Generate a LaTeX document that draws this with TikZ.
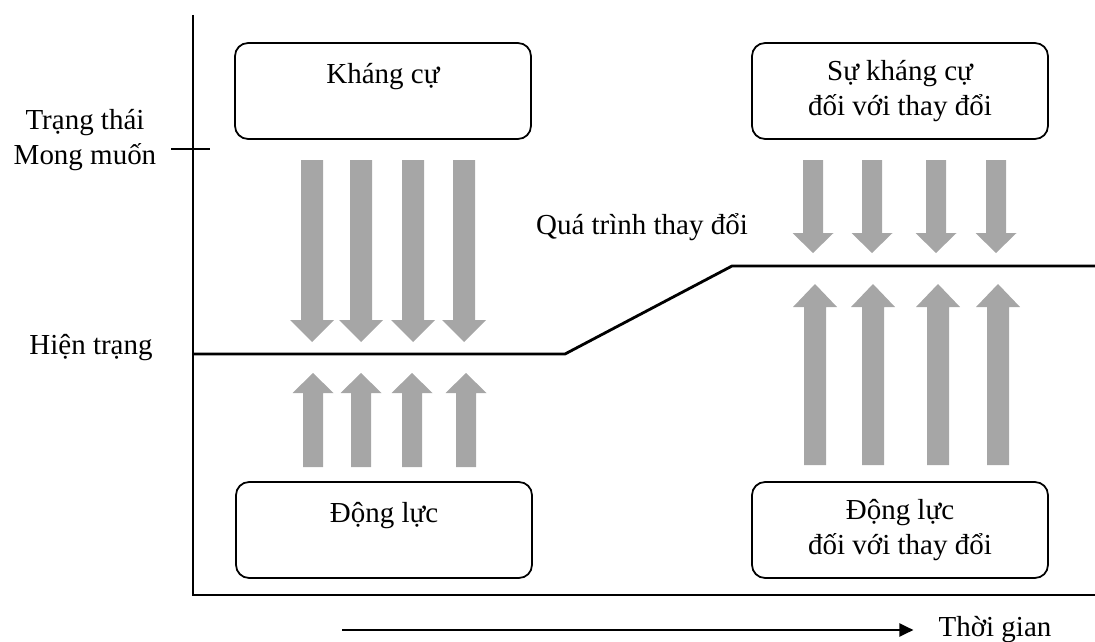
\documentclass[tikz,border=0pt]{standalone}
\usepackage{fontspec}
\setmainfont{Liberation Serif}
\usetikzlibrary{arrows.meta}
\definecolor{arrowgray}{RGB}{166,166,166}

\begin{document}
\begin{tikzpicture}[x=0.02cm, y=-0.02cm, font=\fontsize{16.5}{19.5}\selectfont,
  box/.style={draw, line width=1pt, rounded corners=0.26cm, minimum width=5.92cm,
    minimum height=1.92cm, align=center, inner sep=0pt}]
  \useasboundingbox (0,0) rectangle (1095,642);

  % Axes
  \draw[line width=1.6pt] (193,15) -- (193,595) -- (1095,595);
  \draw[line width=1.6pt] (171,149) -- (210,149);

  % Axis labels
  \node[align=center] (goal) at (85,140) {Trạng thái\\Mong muốn};
  \node (now) at (91,348) {Hiện trạng};

  % Boxes
  \node[box] (resist) at (383,91) {Kháng cự\\\mbox{}};
  \node[box] (drive) at (384,530) {Động lực\\\mbox{}};
  \node[box] (resistchg) at (900,91) {Sự kháng cự\\đối với thay đổi};
  \node[box] (drivechg) at (900,530) {Động lực\\đối với thay đổi};

  % State line
  \draw[line width=1.6pt] (193,354) -- (565,354) -- (732,266) -- (1095,266);
  \node (process) at (642,227) {Quá trình thay đổi};

  % Resistance arrows (left)
  \foreach \x in {312,361,413,464} {
    \fill[arrowgray] ({\x-11},160) -- ({\x+11},160) -- ({\x+11},320) -- ({\x+22},320)
      -- (\x,342) -- ({\x-22},320) -- ({\x-11},320) -- cycle;
  }
  % Driving arrows (left)
  \foreach \x in {313,361,412,466} {
    \fill[arrowgray] ({\x-10},467) -- ({\x+10},467) -- ({\x+10},393) -- ({\x+20.5},393)
      -- (\x,373) -- ({\x-20.5},393) -- ({\x-10},393) -- cycle;
  }
  % Resistance arrows (right)
  \foreach \x in {813,872,936,996} {
    \fill[arrowgray] ({\x-10},160) -- ({\x+10},160) -- ({\x+10},233) -- ({\x+20.5},233)
      -- (\x,253) -- ({\x-20.5},233) -- ({\x-10},233) -- cycle;
  }
  % Driving arrows (right)
  \foreach \x in {815,873,938,998} {
    \fill[arrowgray] ({\x-11},465) -- ({\x+11},465) -- ({\x+11},307) -- ({\x+22},307)
      -- (\x,284) -- ({\x-22},307) -- ({\x-11},307) -- cycle;
  }

  % Time
  \node (time) at (995,630) {Thời gian};
  \coordinate (tstart) at (342,630);
  \draw[line width=1.2pt, -{Triangle[length=0.28cm, width=0.26cm]}]
    (tstart) -- ([xshift=-0.38cm]time.west);
\end{tikzpicture}
\end{document}
